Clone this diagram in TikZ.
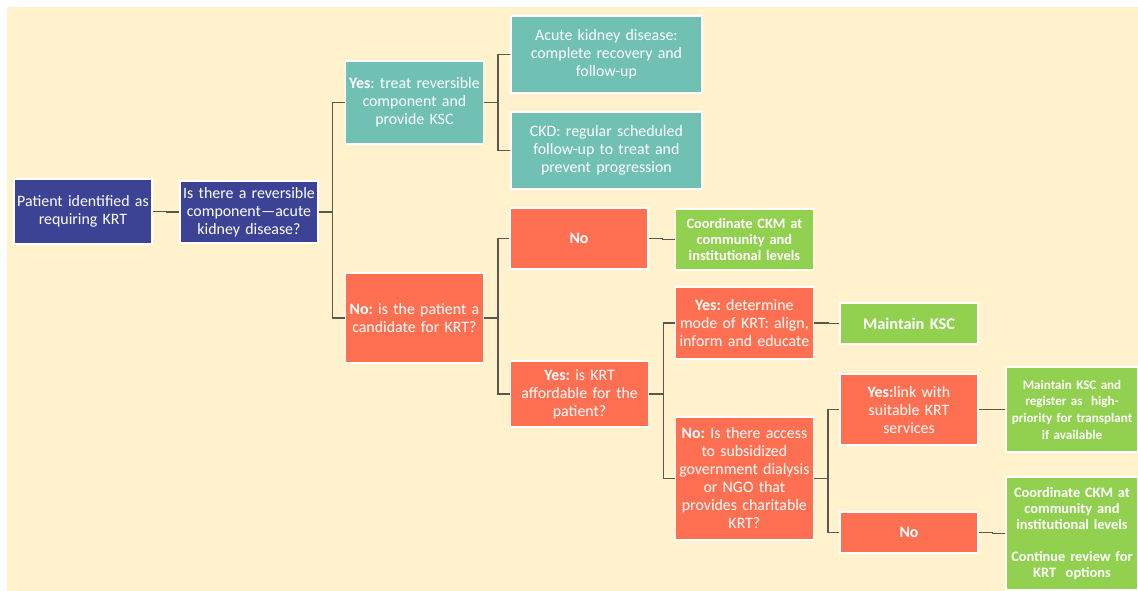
\documentclass[tikz,border=0pt]{standalone}
\usepackage{fontspec}
\setmainfont{Carlito}
\frenchspacing

\definecolor{krtcream}{RGB}{255,242,204}
\definecolor{krtnavy}{RGB}{60,67,148}
\definecolor{krtteal}{RGB}{112,193,180}
\definecolor{krtcoral}{RGB}{255,112,82}
\definecolor{krtgreen}{RGB}{146,208,80}
\definecolor{krtline}{RGB}{88,88,78}

\begin{document}
\begin{tikzpicture}
    % Define styles
    \tikzset{
        navybox/.style={
            draw=white, line width=1pt,
            fill=krtnavy, text=white,
            minimum width=3.45cm,
            text width=3.45cm, inner sep=0pt,
            align=center,
            font=\fontsize{11.3}{12.8}\selectfont
        },
        tealbox/.style={
            draw=white, line width=1pt,
            fill=krtteal, text=white,
            minimum width=3.45cm,
            text width=3.45cm, inner sep=0pt,
            align=center,
            font=\fontsize{11.3}{12.8}\selectfont
        },
        coralbox/.style={
            draw=white, line width=1pt,
            fill=krtcoral, text=white,
            minimum width=3.45cm,
            text width=3.45cm, inner sep=0pt,
            align=center,
            font=\fontsize{11.3}{12.8}\selectfont
        },
        greenbox/.style={
            draw=white, line width=1pt,
            fill=krtgreen, text=white,
            minimum width=3.45cm,
            text width=3.45cm, inner sep=0pt,
            align=center,
            font=\fontsize{10.25}{11.3}\selectfont\bfseries
        },
        connector/.style={
            krtline,
            line width=0.9pt
        }
    }

    % Background
    \useasboundingbox (0,0) rectangle (28.45,-14.775);
    \fill[krtcream] (0.175,-0.175) rectangle (28.45,-14.775);

    % Start and first question
    \node[navybox, minimum height=1.625cm] (pat) at (2.075,-5.29) {Patient identified as\\requiring KRT};
    \node[navybox, minimum height=1.55cm] (rev) at (6.225,-5.3) {Is there a reversible\\component—acute\\kidney disease?};

    % Reversible branch
    \node[tealbox, minimum height=2.075cm] (yes1) at (10.36,-2.56) {\textbf{Yes}: treat reversible\\component and\\provide KSC};
    \node[tealbox, minimum width=4.775cm, text width=4.6cm, minimum height=1.925cm] (akd) at (15.16,-1.36) {Acute kidney disease:\\complete recovery and\\follow-up};
    \node[tealbox, minimum width=4.775cm, text width=4.6cm, minimum height=1.925cm] (ckd) at (15.16,-3.76) {CKD: regular scheduled\\follow-up to treat and\\prevent progression};

    % Not reversible branch
    \node[coralbox, minimum height=2.25cm] (no1) at (10.36,-7.95) {\textbf{No:} is the patient a\\candidate for KRT?};
    \node[coralbox, minimum height=1.525cm] (no2) at (14.475,-5.96) {\textbf{No}};
    \node[greenbox, minimum height=1.525cm] (ckm1) at (18.61,-5.99) {Coordinate CKM at\\community and\\institutional levels};
    \node[coralbox, minimum height=1.65cm] (afford) at (14.49,-9.85) {\textbf{Yes:} is KRT\\affordable for the\\patient?};

    % Affordability
    \node[coralbox, minimum height=1.8cm] (mode) at (18.61,-8.075) {\textbf{Yes:} determine\\mode of KRT: align,\\inform and educate};
    \node[greenbox, minimum height=1.025cm, font=\fontsize{11.6}{12.8}\selectfont\bfseries] (ksc) at (22.725,-8.09) {Maintain KSC};
    \node[coralbox, minimum height=3.075cm] (access) at (18.61,-11.96) {\textbf{No:} Is there access\\to subsidized\\government dialysis\\or NGO that\\provides charitable\\KRT?};

    % Access to subsidized care
    \node[coralbox, minimum height=1.775cm] (link) at (22.725,-10.24) {\textbf{Yes:}link with\\suitable KRT\\services};
    \node[coralbox, minimum height=1.025cm] (no3) at (22.725,-13.31) {\textbf{No}};
    \node[greenbox, minimum width=3.3cm, text width=3.3cm, minimum height=2.125cm,
        font=\fontsize{9.3}{11.8}\selectfont\bfseries] (reg) at (26.8,-10.24) {Maintain KSC and\\register as\ \ high-\\priority for transplant\\if available};
    \node[greenbox, minimum width=3.3cm, text width=3.3cm, minimum height=2.825cm] (ckm2) at (26.8,-13.34) {Coordinate CKM at\\community and\\institutional levels\\[11.3pt]Continue review for\\KRT\ \ options};

    % Connect
    \foreach \from/\to in {pat/rev, rev/yes1, rev/no1, yes1/akd, yes1/ckd,
        no1/no2, no1/afford, no2/ckm1, afford/mode, afford/access,
        mode/ksc, access/link, access/no3, link/reg, no3/ckm2}
        \draw[connector] (\from.east) -- ++(0.35,0) |- (\to.west);

\end{tikzpicture}
\end{document}
